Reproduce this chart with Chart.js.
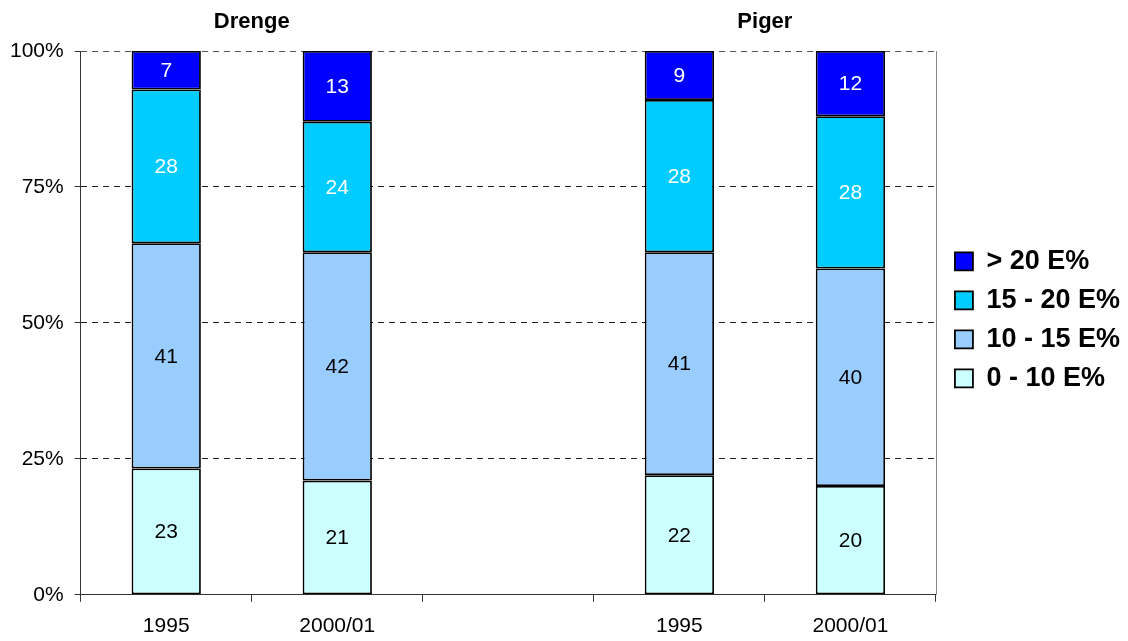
<!DOCTYPE html>
<html>
<head>
<meta charset="utf-8">
<script src="https://cdn.jsdelivr.net/npm/chart.js@4/dist/chart.umd.min.js"></script>
<style>
  html, body { margin: 0; padding: 0; background: #fff; }
  #wrap { width: 1128px; height: 641px; }
</style>
</head>
<body>
<div id="wrap"><canvas id="c" width="1128" height="641"></canvas></div>
<script>
const categories = ['1995', '2000/01', '', '1995', '2000/01'];
const groupTitles = ['Drenge', 'Piger'];
const groupTitleSlots = [[0, 1], [3, 4]];
const seriesNames = ['0 - 10 E%', '10 - 15 E%', '15 - 20 E%', '> 20 E%'];
const s0to10 = [23, 21, null, 22, 20];
const s10to15 = [41, 42, null, 41, 40];
const s15to20 = [28, 24, null, 28, 28];
const sOver20 = [7, 13, null, 9, 12];
const yTicks = [0, 25, 50, 75, 100];

const seriesValues = [s0to10, s10to15, s15to20, sOver20];
const colors = ['#CCFFFF', '#99CCFF', '#00CCFF', '#0000FF'];
const labelColors = ['#000', '#000', '#fff', '#fff'];

const totals = categories.map((_, i) => seriesValues.reduce((a, s) => a + (s[i] || 0), 0));
const pct = (s) => s.map((v, i) => v == null ? null : v / totals[i] * 100);

const FONT = "'Liberation Sans', Arial, sans-serif";

const labelPlugin = {
  id: 'segLabels',
  afterDatasetsDraw(chart) {
    const ctx = chart.ctx;
    ctx.save();
    ctx.font = '21px ' + FONT;
    ctx.textAlign = 'center';
    ctx.textBaseline = 'middle';
    chart.data.datasets.forEach((ds, di) => {
      const meta = chart.getDatasetMeta(di);
      meta.data.forEach((el, i) => {
        const raw = seriesValues[di][i];
        if (raw == null) return;
        ctx.fillStyle = labelColors[di];
        ctx.fillText(String(raw), el.x, (el.y + el.base) / 2 + 1);
      });
    });
    ctx.restore();
  }
};

const framePlugin = {
  id: 'frame',
  beforeDraw(chart) {
    const lg = chart.legend;
    const a = chart.chartArea;
    if (lg) {
      const h = lg.bottom - lg.top;
      const w = lg.right - lg.left;
      const cy = (a.top + a.bottom) / 2 - 3;
      lg.top = cy - h / 2;
      lg.bottom = lg.top + h;
      lg.left = a.right + 7;
      lg.right = lg.left + w;
    }
  },
  afterDraw(chart) {
    const ctx = chart.ctx;
    const a = chart.chartArea;
    const xs = chart.scales.x;
    ctx.save();
    ctx.strokeStyle = '#888';
    ctx.lineWidth = 1;
    ctx.beginPath();
    ctx.moveTo(Math.round(a.right) + 0.5, a.top);
    ctx.lineTo(Math.round(a.right) + 0.5, a.bottom);
    ctx.stroke();
    ctx.fillStyle = '#000';
    ctx.font = 'bold 22px ' + FONT;
    ctx.textAlign = 'center';
    ctx.textBaseline = 'middle';
    groupTitles.forEach((t, k) => {
      const [i, j] = groupTitleSlots[k];
      const x = (xs.getPixelForValue(i) + xs.getPixelForValue(j)) / 2;
      ctx.fillText(t, x, a.top - 29);
    });
    ctx.restore();
  }
};

new Chart(document.getElementById('c'), {
  type: 'bar',
  data: {
    labels: categories,
    datasets: seriesNames.map((n, k) => ({
      label: n,
      data: pct(seriesValues[k]),
      backgroundColor: colors[k],
      borderColor: '#000',
      borderWidth: 1.8,
      borderSkipped: false,
      categoryPercentage: 1,
      barPercentage: 0.405
    }))
  },
  options: {
    responsive: false,
    animation: false,
    devicePixelRatio: 1,
    layout: { padding: { top: 51, left: -1, right: 5, bottom: -10 } },
    plugins: {
      title: { display: false },
      tooltip: { enabled: false },
      legend: {
        position: 'right',
        reverse: true,
        labels: {
          boxWidth: 18,
          boxHeight: 18,
          padding: 12,
          color: '#000',
          font: { family: FONT, size: 27, weight: 'bold' }
        }
      }
    },
    scales: {
      x: {
        stacked: true,
        grid: {
          offset: true,
          drawOnChartArea: false,
          drawTicks: true,
          tickLength: 7,
          color: '#333'
        },
        border: { color: '#333', width: 1 },
        ticks: { color: '#000', font: { family: FONT, size: 21 }, padding: 12 }
      },
      y: {
        stacked: true,
        min: 0,
        max: 100,
        afterBuildTicks(scale) { scale.ticks = yTicks.map(v => ({ value: v })); },
        grid: {
          color: (c) => c.tick && c.tick.value === 0 ? 'rgba(0,0,0,0)' : (c.tick && c.tick.value === 100 ? '#555' : '#222'),
          tickColor: '#333',
          tickLength: 6,
          tickBorderDash: [],
          lineWidth: 1
        },
        border: { color: '#333', width: 1, dash: [6, 5] },
        ticks: {
          color: '#000',
          font: { family: FONT, size: 21 },
          padding: 11,
          callback: (v) => v + '%'
        }
      }
    }
  },
  plugins: [labelPlugin, framePlugin]
});
</script>
</body>
</html>
